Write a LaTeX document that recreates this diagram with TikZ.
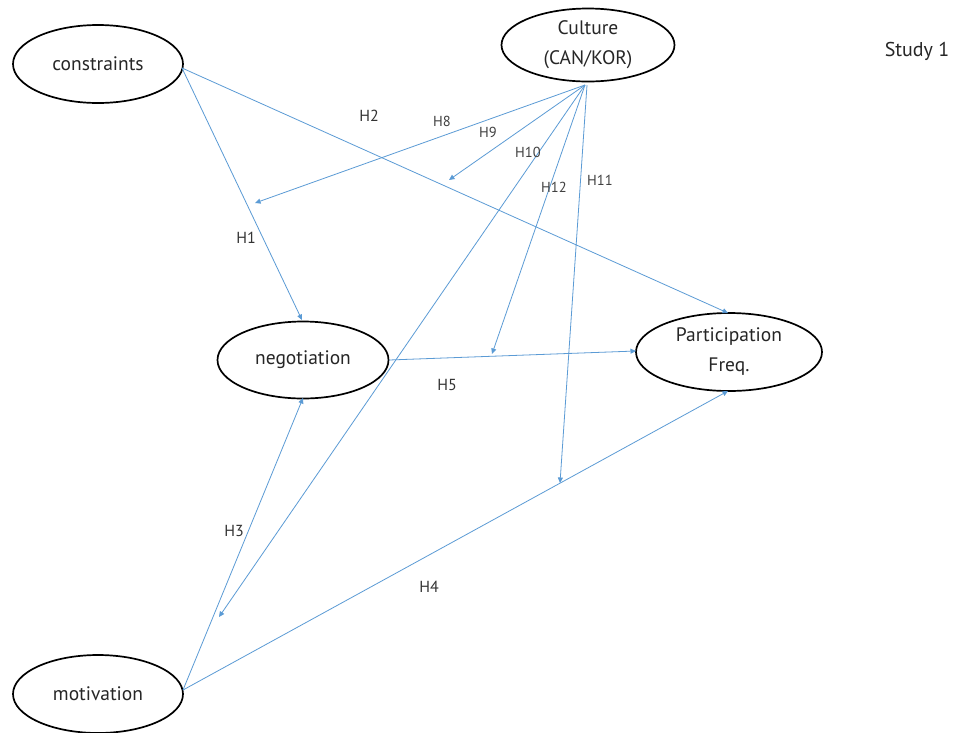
\documentclass[tikz,border=0pt]{standalone}
\usepackage{fontspec}
\setmainfont{PT Sans}
\usetikzlibrary{arrows.meta,shapes.geometric}
\definecolor{pathblue}{RGB}{91,155,213}
\begin{document}
\begin{tikzpicture}[x=1pt,y=-1pt,
  construct/.style={draw=black, line width=1.7pt, ellipse, inner sep=0pt, align=center,
    font=\fontsize{19.5}{30}\selectfont, text=black!85},
  path/.style={draw=pathblue, line width=0.8pt, -{Triangle[width=5pt,length=5.5pt]}},
  hlab/.style={font=\fontsize{16}{18}\selectfont, text=black!80},
  hsmall/.style={font=\fontsize{14.5}{16}\selectfont, text=black!75}]
\useasboundingbox (0,0) rectangle (953,732);
\fill[white] (0,0) rectangle (953,732);

% constructs
\node[construct, minimum width=170pt, minimum height=78pt] (con) at (98,64) {constraints};
\node[construct, minimum width=173pt, minimum height=73pt] (cul) at (588,45) {Culture\\(CAN/KOR)};
\node[construct, minimum width=171pt, minimum height=77pt] (neg) at (303,360) {negotiation};
\node[construct, minimum width=186pt, minimum height=78pt] (par) at (729,352) {Participation\\Freq.};
\node[construct, minimum width=170pt, minimum height=78pt] (mot) at (98,694) {motivation};
\node[font=\fontsize{20}{22}\selectfont, text=black!85] (study) at (917,51) {Study 1};

% attachment points on the ellipses
\coordinate (conE) at (182,68);
\coordinate (culS) at (585,85);
\coordinate (negN) at (302,320);
\coordinate (negS) at (303,398);
\coordinate (negE) at (389,360);
\coordinate (parN) at (728,313);
\coordinate (parW) at (636,351);
\coordinate (parS) at (728,391);
\coordinate (motE) at (183,690);

% moderation targets on the direct paths
\coordinate (m8)  at (255,203);
\coordinate (m9)  at (449,180);
\coordinate (m10) at (219,617);
\coordinate (m12) at (492,354);
\coordinate (m11) at (560,483);

% direct paths
\draw[path] (conE) -- (negN);
\draw[path] (conE) -- (parN);
\draw[path] (negE) -- (parW);
\draw[path] (motE) -- (negS);
\draw[path] (motE) -- (parS);

% moderating paths from culture
\draw[path] (culS) -- (m8);
\draw[path] (culS) -- (m9);
\draw[path] (culS) -- (m10);
\draw[path] (culS) -- (m12);
\draw[path] ([xshift=2pt]culS) -- (m11);

% labels
\node[hlab] (h1) at (246,238) {H1};
\node[hlab] (h2) at (369,116) {H2};
\node[hlab] (h3) at (234,531) {H3};
\node[hlab] (h4) at (429,587) {H4};
\node[hlab] (h5) at (447,385) {H5};
\node[hsmall] (h8) at (442,121) {H8};
\node[hsmall] (h9) at (488,132) {H9};
\node[hsmall] (h10) at (528,152) {H10};
\node[hsmall] (h12) at (554,187) {H12};
\node[hsmall] (h11) at (600,180) {H11};
\end{tikzpicture}
\end{document}
